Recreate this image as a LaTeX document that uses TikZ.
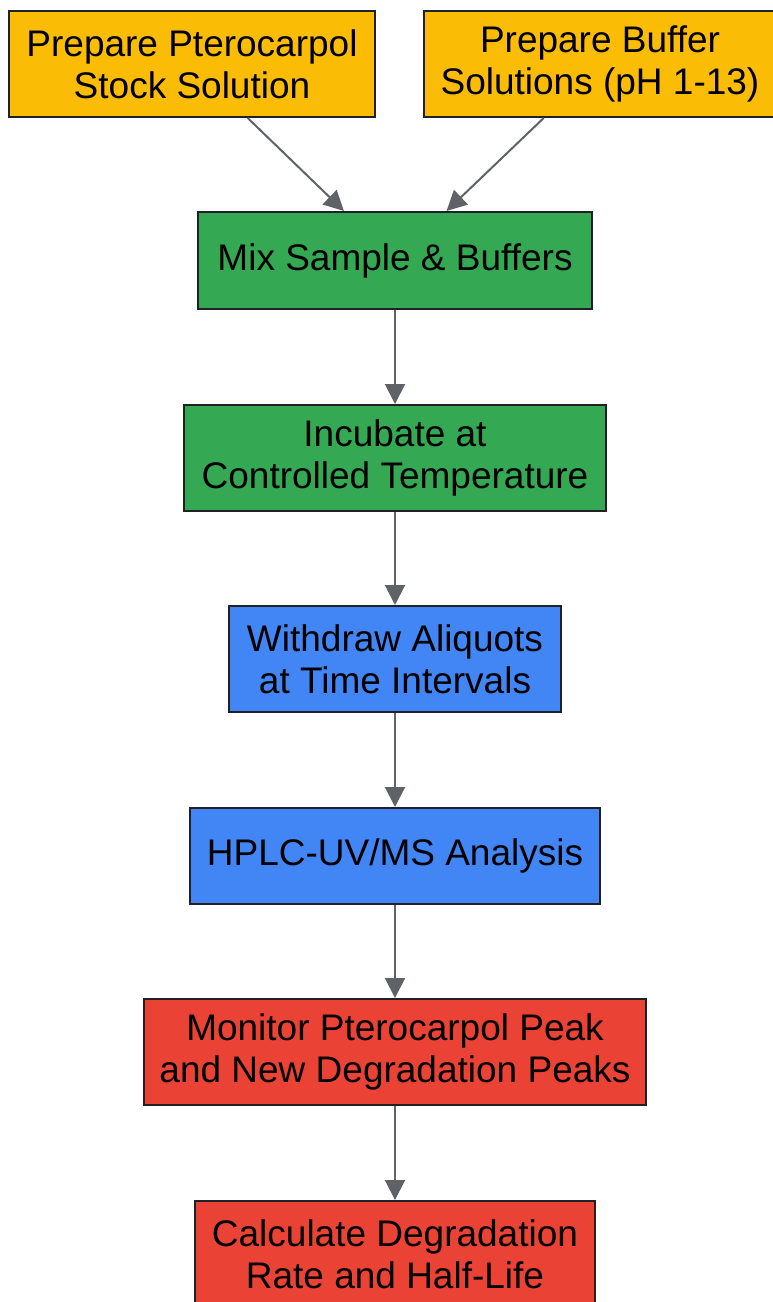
\documentclass[tikz,border=0pt]{standalone}
\usepackage{fontspec}
\setmainfont{Liberation Sans}
\usepackage{tikz}
\usetikzlibrary{arrows.meta}
\definecolor{prepyellow}{HTML}{FBBC05}
\definecolor{mixgreen}{HTML}{34A853}
\definecolor{runblue}{HTML}{4285F4}
\definecolor{evalred}{HTML}{EA4335}
\definecolor{edgegray}{HTML}{5F6368}
\definecolor{boxline}{HTML}{202124}

\begin{document}
\begin{tikzpicture}[x=1pt, y=-1pt,
  stepbox/.style={draw=boxline, line width=2pt, inner sep=0pt, align=center,
    font=\fontsize{37}{42}\selectfont},
  flow/.style={draw=edgegray, line width=2pt,
    -{Triangle[length=20pt, width=20pt]}}]
\useasboundingbox (0, 0) rectangle (773, 1302);
\node [stepbox, fill=prepyellow, minimum width=366, minimum height=106] (stock) at (192, 64) {Prepare Pterocarpol\\Stock Solution};
\node [stepbox, fill=prepyellow, minimum width=352, minimum height=106] (buffer) at (600, 64) {Prepare Buffer\\Solutions (pH 1-13)};
\node [stepbox, fill=mixgreen, minimum width=394, minimum height=97] (mix) at (395, 260.5) {Mix Sample \& Buffers};
\node [stepbox, fill=mixgreen, minimum width=422, minimum height=106] (incubate) at (395, 458) {Incubate at\\Controlled Temperature};
\node [stepbox, fill=runblue, minimum width=332, minimum height=106] (withdraw) at (395, 659) {Withdraw Aliquots\\at Time Intervals};
\node [stepbox, fill=runblue, minimum width=410, minimum height=96] (hplc) at (395, 856) {HPLC-UV/MS Analysis};
\node [stepbox, fill=evalred, minimum width=502, minimum height=106] (monitor) at (395, 1052) {Monitor Pterocarpol Peak\\and New Degradation Peaks};
\node [stepbox, fill=evalred, minimum width=400, minimum height=106] (calc) at (395, 1254) {Calculate Degradation\\Rate and Half-Life};
\draw [flow] (stock) -- (mix);
\draw [flow] (buffer) -- (mix);
\draw [flow] (mix) -- (incubate);
\draw [flow] (incubate) -- (withdraw);
\draw [flow] (withdraw) -- (hplc);
\draw [flow] (hplc) -- (monitor);
\draw [flow] (monitor) -- (calc);
\end{tikzpicture}
\end{document}
